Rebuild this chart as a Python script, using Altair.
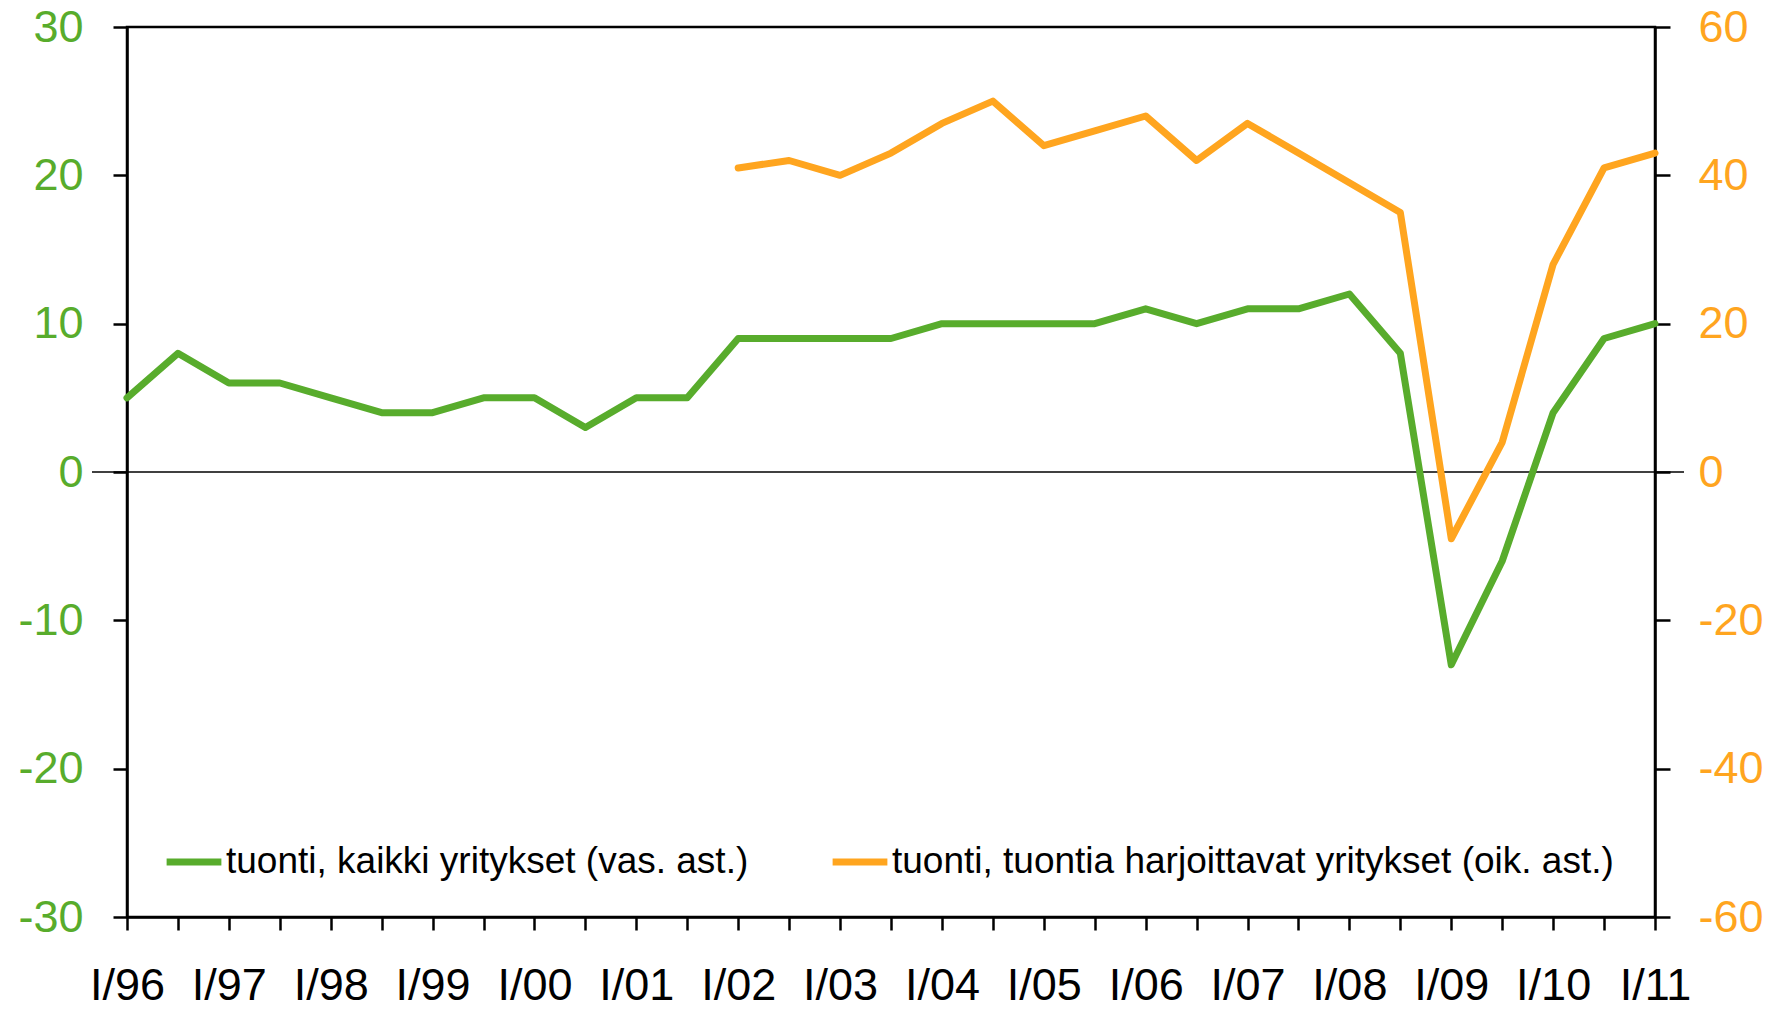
import altair as alt
import pandas as pd

periods = []
for y in range(96, 112):
    yy = f"{y % 100:02d}"
    periods.append(f"I/{yy}")
    if y < 111:
        periods.append(f"III/{yy}")

green_vals = [5, 8, 6, 6, 5, 4, 4, 5, 5, 3, 5, 5, 9, 9, 9, 9, 10, 10, 10, 10,
              11, 10, 11, 11, 12, 8, -13, -6, 4, 9, 10]
orange_start = "I/02"
orange_vals = [41, 42, 40, 43, 47, 50, 44, 46, 48, 42, 47, 43, 39, 35, -9, 4, 28, 41, 43]

series_names = ["tuonti, kaikki yritykset (vas. ast.)",
                "tuonti, tuontia harjoittavat yritykset (oik. ast.)"]
colors = ["#58ac2c", "#ffa51f"]

W, H = 1528, 890

df_g = pd.DataFrame({"period": periods, "value": green_vals, "series": series_names[0]})
i0 = periods.index(orange_start)
df_o = pd.DataFrame({"period": periods[i0:i0 + len(orange_vals)], "value": orange_vals,
                     "series": series_names[1]})

xenc = alt.X("period:N", sort=periods,
             scale=alt.Scale(type="point", padding=0, domain=periods),
             axis=alt.Axis(title=None, labelAngle=0,
                           labelExpr="indexof(datum.label, 'III') == 0 ? '' : datum.label",
                           labelFont="Liberation Sans", labelFontSize=45, labelColor="black",
                           labelBaseline="alphabetic", labelPadding=69,
                           tickSize=13, tickWidth=2.5, tickColor="black",
                           domainColor="black", domainWidth=2.5, grid=False))

color = alt.Color("series:N", scale=alt.Scale(domain=series_names, range=colors),
                  legend=alt.Legend(title=None, orient="none", legendX=36, legendY=804,
                                    direction="horizontal", symbolType="stroke",
                                    symbolStrokeWidth=7, symbolSize=3000,
                                    labelFont="Liberation Sans", labelFontSize=37,
                                    labelColor="black", labelOffset=1, columnPadding=69,
                                    labelLimit=1000))

zero = alt.Chart(pd.DataFrame({"z": [0]})).mark_rule(color="black", strokeWidth=1.5).encode(
    y=alt.Y("z:Q"),
    x=alt.value(-35), x2=alt.value(W + 29))

green = alt.Chart(df_g).mark_line(strokeWidth=7, strokeCap="round", strokeJoin="round").encode(
    x=xenc,
    y=alt.Y("value:Q", scale=alt.Scale(domain=[-30, 30], nice=False),
            axis=alt.Axis(title=None, values=[-30, -20, -10, 0, 10, 20, 30],
                          labelExpr="'' + datum.value",
                          labelFont="Liberation Sans", labelFontSize=45, labelColor="#58ac2c",
                          labelPadding=30, tickSize=14, tickWidth=2.5, tickColor="black",
                          domainColor="black", domainWidth=2.5, grid=False)),
    color=color)

orange = alt.Chart(df_o).mark_line(strokeWidth=7, strokeCap="round", strokeJoin="round").encode(
    x=xenc,
    y=alt.Y("value:Q", scale=alt.Scale(domain=[-60, 60], nice=False),
            axis=alt.Axis(title=None, orient="right", values=[-60, -40, -20, 0, 20, 40, 60],
                          labelExpr="'' + datum.value",
                          labelFont="Liberation Sans", labelFontSize=45, labelColor="#ffa51f",
                          labelPadding=28, tickSize=15, tickWidth=2.5, tickColor="black",
                          domainColor="black", domainWidth=2.5, grid=False)),
    color=color)

left = alt.layer(zero, green)
chart = alt.layer(left, orange).resolve_scale(y="independent").properties(
    width=W, height=H,
    autosize=alt.AutoSizeParams(type="none"),
    padding={"left": 119, "top": 19, "right": 115, "bottom": 84},
).configure(background="white",
            view=alt.ViewConfig(stroke="black", strokeWidth=2.5))

chart.save("out.html", embed_options={"renderer": "svg", "actions": False})
